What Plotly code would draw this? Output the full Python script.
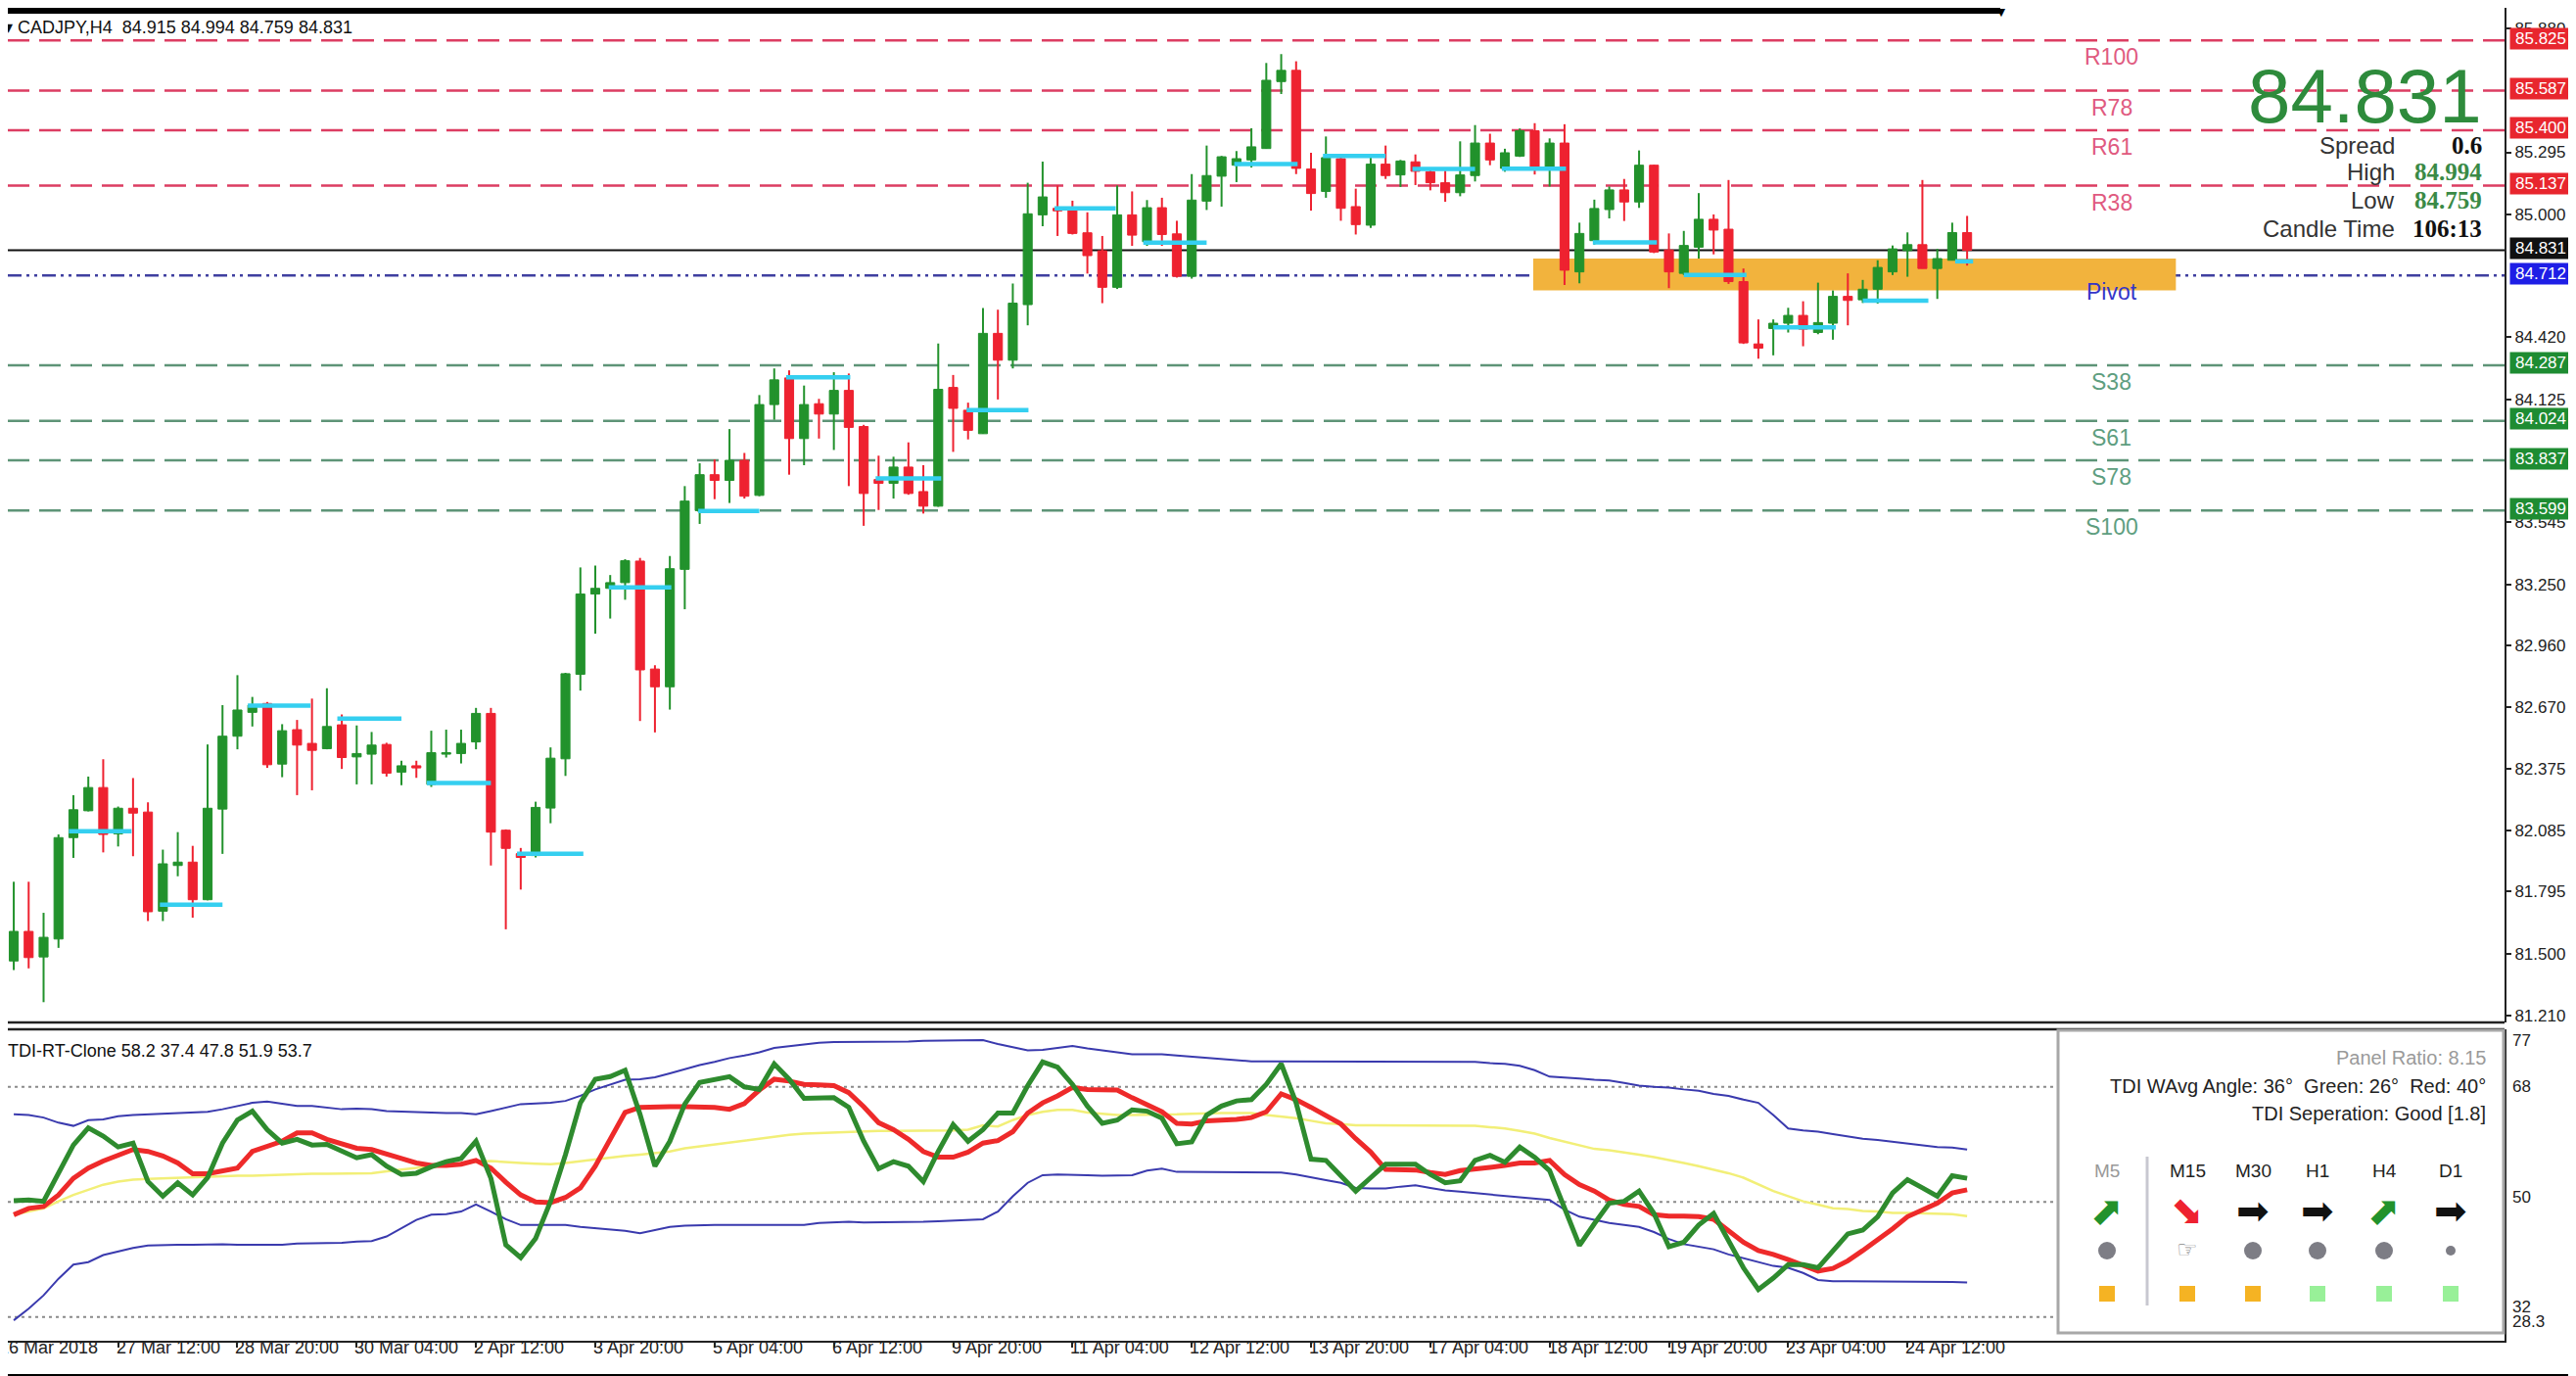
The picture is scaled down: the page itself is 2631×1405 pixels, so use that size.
import plotly.graph_objects as go

W, H = 2631, 1405


def px(x):
    return x / W


def py(y):
    return 1 - y / H


# CADJPY H4, bar 0 = 26 Mar 2018 04:00 ... bar 131 = 25 Apr 04:00
opens = [81.467, 81.607, 81.486, 81.571, 82.051, 82.178, 82.288, 82.069, 82.190, 82.172,
         81.703, 81.919, 81.935, 81.757, 82.186, 82.531, 82.644, 82.686, 82.399, 82.562,
         82.497, 82.472, 82.585, 82.433, 82.446, 82.492, 82.361, 82.391, 82.303, 82.446,
         82.449, 82.504, 82.639, 82.086, 81.975, 81.966, 82.191, 82.424, 82.824, 83.204,
         83.231, 83.258, 83.360, 82.849, 82.765, 83.321, 83.599, 83.769, 83.742, 83.837,
         83.671, 84.101, 84.227, 83.940, 84.105, 84.056, 84.168, 83.997, 83.746, 83.728,
         83.805, 83.689, 83.620, 84.182, 84.074, 83.963, 84.438, 84.311, 84.574, 84.999,
         85.030, 85.022, 84.914, 84.829, 84.656, 84.999, 84.872, 85.033, 84.909, 84.708,
         85.064, 85.182, 85.234, 85.259, 85.313, 85.630, 85.683, 85.216, 85.110, 85.265,
         85.038, 84.950, 85.239, 85.188, 85.250, 85.203, 85.151, 85.104, 85.185, 85.339,
         85.219, 85.277, 85.397, 85.226, 85.339, 84.729, 84.877, 85.024, 85.117, 85.060,
         85.234, 84.833, 84.722, 84.846, 84.978, 84.931, 84.683, 84.388, 84.461, 84.486,
         84.523, 84.442, 84.486, 84.613, 84.597, 84.647, 84.729, 84.830, 84.858, 84.745,
         84.784, 84.915]
highs = [81.842, 81.842, 81.695, 82.066, 82.252, 82.340, 82.422, 82.198, 82.333, 82.218,
         81.994, 82.077, 82.012, 82.492, 82.678, 82.820, 82.717, 82.693, 82.588, 82.608,
         82.709, 82.758, 82.634, 82.582, 82.551, 82.500, 82.415, 82.415, 82.557, 82.562,
         82.562, 82.665, 82.665, 82.090, 82.002, 82.221, 82.478, 82.831, 83.330, 83.339,
         83.294, 83.369, 83.375, 82.867, 83.384, 83.715, 83.823, 83.841, 83.985, 83.872,
         84.146, 84.272, 84.263, 84.191, 84.128, 84.254, 84.248, 84.005, 83.859, 83.854,
         83.922, 83.814, 84.390, 84.241, 84.110, 84.558, 84.550, 84.674, 85.151, 85.251,
         85.138, 85.066, 85.011, 84.899, 85.138, 85.110, 85.069, 85.080, 84.971, 85.192,
         85.327, 85.278, 85.301, 85.409, 85.718, 85.760, 85.726, 85.293, 85.370, 85.285,
         85.123, 85.270, 85.327, 85.259, 85.285, 85.216, 85.208, 85.347, 85.424, 85.383,
         85.312, 85.408, 85.433, 85.361, 85.428, 84.962, 85.071, 85.133, 85.169, 85.304,
         85.236, 84.911, 84.923, 85.102, 85.001, 85.164, 84.745, 84.504, 84.504, 84.559,
         84.590, 84.678, 84.641, 84.722, 84.691, 84.784, 84.854, 84.916, 85.164, 84.838,
         84.962, 84.994]
lows = [81.424, 81.432, 81.272, 81.529, 81.955, 82.175, 81.981, 82.009, 81.963, 81.656,
        81.656, 81.868, 81.672, 81.754, 81.974, 82.469, 82.577, 82.381, 82.337, 82.252,
        82.275, 82.469, 82.376, 82.303, 82.303, 82.340, 82.299, 82.334, 82.291, 82.430,
        82.402, 82.469, 81.919, 81.617, 81.805, 81.957, 82.119, 82.343, 82.747, 83.016,
        83.088, 83.177, 82.603, 82.549, 82.657, 83.132, 83.536, 83.653, 83.635, 83.656,
        83.667, 84.029, 83.769, 83.814, 83.940, 83.886, 83.715, 83.527, 83.602, 83.656,
        83.674, 83.585, 83.617, 83.877, 83.936, 83.963, 84.125, 84.272, 84.476, 84.945,
        84.899, 84.906, 84.721, 84.581, 84.648, 84.852, 84.852, 84.852, 84.702, 84.697,
        85.022, 85.038, 85.154, 85.223, 85.312, 85.571, 85.192, 85.019, 85.080, 84.971,
        84.906, 84.937, 85.169, 85.131, 85.140, 85.115, 85.061, 85.087, 85.157, 85.234,
        85.203, 85.273, 85.190, 85.133, 84.667, 84.675, 84.858, 84.982, 84.970, 85.032,
        84.818, 84.652, 84.714, 84.792, 84.812, 84.672, 84.388, 84.318, 84.334, 84.442,
        84.377, 84.434, 84.408, 84.476, 84.582, 84.579, 84.714, 84.706, 84.745, 84.601,
        84.784, 84.759]
closes = [81.607, 81.483, 81.579, 82.051, 82.183, 82.288, 82.066, 82.190, 82.167, 81.700,
          81.927, 81.935, 81.757, 82.190, 82.531, 82.655, 82.678, 82.396, 82.557, 82.489,
          82.464, 82.577, 82.430, 82.449, 82.489, 82.356, 82.391, 82.381, 82.453, 82.453,
          82.497, 82.639, 82.077, 82.000, 81.957, 82.194, 82.427, 82.827, 83.204, 83.231,
          83.258, 83.362, 82.845, 82.765, 83.324, 83.644, 83.769, 83.742, 83.837, 83.667,
          84.101, 84.218, 83.940, 84.101, 84.056, 84.168, 83.993, 83.680, 83.728, 83.805,
          83.680, 83.620, 84.173, 84.083, 83.979, 84.438, 84.311, 84.581, 85.004, 85.084,
          85.018, 84.911, 84.806, 84.656, 84.999, 84.903, 85.033, 84.906, 84.708, 85.069,
          85.185, 85.274, 85.265, 85.321, 85.636, 85.683, 85.219, 85.100, 85.270, 85.030,
          84.953, 85.239, 85.185, 85.254, 85.205, 85.151, 85.104, 85.188, 85.339, 85.259,
          85.293, 85.397, 85.226, 85.339, 84.737, 84.911, 85.029, 85.117, 85.060, 85.234,
          84.823, 84.729, 84.854, 84.978, 84.927, 84.683, 84.393, 84.368, 84.486, 84.523,
          84.458, 84.489, 84.613, 84.594, 84.647, 84.750, 84.838, 84.858, 84.745, 84.792,
          84.915, 84.831]

# daily open segments (cyan)
cyan_start = [3.7, 9.8, 15.7, 21.7, 27.7, 33.75, 39.9, 45.9, 51.8, 57.8, 63.9,
              69.8, 75.75, 81.85, 87.8, 93.8, 99.8, 105.9, 112.0, 118.0, 124.0, 130.2]
cyan_end = [7.9, 14.0, 19.9, 26.0, 32.0, 38.2, 44.1, 50.0, 56.1, 62.2, 68.05,
            73.9, 80.0, 86.1, 92.0, 98.0, 104.1, 110.2, 116.2, 122.2, 128.4, 131.4]
cyan_level = [82.081, 81.734, 82.676, 82.614, 82.31, 81.975, 83.236, 83.597, 84.230, 83.751, 84.075,
              85.030, 84.868, 85.239, 85.278, 85.216, 85.218, 84.869, 84.714, 84.466, 84.593, 84.779]

# pivot levels
level_names = ["R100", "R78", "R61", "R38", "Pivot", "S38", "S61", "S78", "S100"]
level_prices = [85.825, 85.587, 85.400, 85.137, 84.712, 84.287, 84.024, 83.837, 83.599]
current_price = 84.831
zone_bars = [101.9, 145.0]
zone_prices = [84.641, 84.792]

price_ticks = [85.880, 85.295, 85.000, 84.420, 84.125, 83.545, 83.250, 82.960,
               82.670, 82.375, 82.085, 81.795, 81.500, 81.210]

# TDI-RT-Clone
tdi_rsi = [50.2, 50.3, 50.1, 54.7, 58.9, 61.6, 60.3, 58.6, 59.2, 53.2,
           50.9, 53.0, 51.1, 53.8, 59.2, 62.8, 64.2, 61.3, 59.2, 59.8,
           58.9, 59.0, 58.0, 56.9, 57.4, 55.6, 54.3, 54.5, 55.5, 56.3,
           56.8, 59.5, 53.7, 43.3, 41.3, 44.3, 50.1, 57.4, 65.5, 69.2,
           69.6, 70.6, 63.7, 55.6, 59.5, 65.3, 68.7, 69.2, 69.6, 68.0,
           67.6, 71.6, 69.2, 66.2, 66.3, 66.3, 64.8, 59.5, 55.2, 56.3,
           55.6, 53.2, 57.9, 62.1, 59.5, 61.3,
           63.9, 63.9, 68.2, 71.9, 71.1, 68.4, 65.0, 62.3, 62.8, 64.4,
           64.2, 63.1, 59.1, 59.4, 63.6, 65.0, 65.8, 66.0, 68.4, 71.6,
           65.5, 56.7, 56.5, 54.1, 51.7, 53.8, 55.9, 55.9, 55.9, 54.3,
           53.0, 53.3, 56.5, 57.3, 56.2, 58.6, 57.0, 54.9, 48.8, 43.2,
           46.6, 49.8, 50.1, 51.7, 48.2, 43.0, 43.7, 46.4, 48.2, 44.0,
           39.7, 36.3, 38.1, 40.2, 40.2, 39.7, 42.4, 45.0, 45.6, 47.7,
           51.4, 53.5, 52.2, 50.9, 54.1, 53.7]
tdi_signal = [48.0, 49.0, 49.3, 51.1, 53.7, 55.3, 56.4, 57.4, 58.2, 57.9,
              57.2, 56.1, 54.4, 54.4, 54.9, 55.3, 57.9, 58.7, 59.5, 60.8,
              60.8, 59.8, 59.0, 58.4, 58.2, 57.4, 56.8, 56.1, 55.7, 55.7,
              55.9, 56.5, 55.3, 53.1, 51.1, 50.0, 49.9, 50.7, 52.2, 55.6,
              60.0, 64.0, 64.8, 64.9, 64.9, 64.9, 64.9, 64.8, 64.5, 65.4,
              67.5, 69.2, 68.9, 68.4, 68.3, 68.2, 67.1, 64.9, 62.4, 61.3,
              59.8, 57.9, 57.0, 57.0, 57.8, 59.2,
              59.6, 61.0, 63.9, 65.5, 66.6, 67.9, 67.6, 67.6, 67.5, 66.3,
              65.3, 64.1, 62.3, 62.2, 62.7, 62.8, 62.9, 63.2, 64.1, 66.9,
              66.0, 64.8, 63.6, 62.2, 59.9, 57.8, 55.1, 55.0, 55.0, 54.6,
              54.3, 54.9, 55.1, 55.4, 55.7, 56.1, 56.1, 56.5, 54.3, 52.7,
              51.7, 50.3, 49.6, 49.3, 48.0, 47.8, 47.8, 47.7, 47.3, 45.6,
              43.7, 42.4, 41.8, 41.0, 40.0, 39.2, 39.6, 40.8, 42.4, 44.0,
              45.8, 47.7, 48.8, 49.8, 51.4, 51.9]
tdi_base = [48.0, 48.5, 49.0, 50.1, 51.1, 51.9, 52.7, 53.2, 53.5, 53.6,
            53.7, 53.8, 53.9, 54.0, 54.0, 54.1, 54.1, 54.2, 54.3, 54.3,
            54.4, 54.4, 54.4, 54.4, 54.5, 54.8, 55.1, 55.3, 55.6, 55.8,
            56.1, 56.3, 56.4, 56.2, 56.1, 56.0, 55.9, 56.1, 56.4, 56.6,
            56.9, 57.2, 57.4, 57.7, 57.9, 58.4, 58.7, 59.1, 59.4, 59.7,
            60.0, 60.2, 60.5, 60.7, 60.8, 60.9, 61.0, 61.0, 61.1, 61.1,
            61.1, 61.1, 61.1, 61.2, 61.3, 62.0,
            61.8, 62.8, 63.6, 64.1, 64.4, 64.4, 64.0, 63.8, 63.6, 63.6,
            63.6, 63.7, 63.7, 63.8, 63.9, 63.9, 63.9, 63.9, 63.6, 63.4,
            63.1, 62.7, 62.3, 62.2, 62.0, 62.0, 62.0, 62.0, 62.0, 62.0,
            62.0, 62.0, 61.9, 61.7, 61.5, 61.1, 60.7, 60.0, 59.4, 58.9,
            58.3, 58.1, 57.8, 57.4, 57.0, 56.6, 56.1, 55.6, 55.1, 54.5,
            53.8, 52.7, 51.7, 50.9, 50.1, 49.6, 49.0, 48.9, 48.6, 48.5,
            48.3, 48.3, 48.2, 48.2, 48.1, 47.8]
tdi_upper = [63.7, 63.6, 63.2, 62.4, 61.9, 62.8, 62.9, 63.4, 63.6, 63.7,
             63.7, 63.8, 63.9, 64.1, 64.5, 65.0, 65.5, 65.7, 65.3, 65.0,
             65.0, 64.8, 64.5, 64.6, 64.5, 64.2, 64.1, 64.0, 63.9, 63.9,
             63.9, 63.7, 64.2, 64.8, 65.3, 65.4, 65.5, 65.8, 66.6, 67.6,
             68.4, 69.1, 69.2, 69.5, 70.1, 70.8, 71.4, 71.9, 72.5, 72.9,
             73.4, 74.1, 74.4, 74.7, 74.9, 75.0, 75.0, 75.0, 75.0, 75.0,
             75.1, 75.2, 75.2, 75.2, 75.3, 75.3,
             74.7, 74.2, 73.7, 73.8, 74.1, 74.4, 74.0, 73.7, 73.4, 73.1,
             73.1, 73.1, 72.9, 72.7, 72.5, 72.3, 72.1, 72.0, 72.0, 72.0,
             72.0, 72.0, 71.9, 71.9, 71.9, 71.9, 71.9, 71.9, 71.9, 71.9,
             71.9, 71.9, 71.9, 71.7, 71.6, 71.3, 70.6, 69.6, 69.5, 69.3,
             69.1, 69.0, 68.6, 68.2, 68.0, 67.9, 67.6, 67.4, 66.9, 66.6,
             66.0, 65.5, 63.6, 61.5, 61.2, 61.0, 60.6, 60.2, 59.9, 59.7,
             59.4, 59.1, 58.9, 58.6, 58.5, 58.2]
tdi_lower = [31.5, 33.3, 35.4, 38.0, 40.2, 40.6, 41.7, 42.3, 42.8, 43.2,
             43.3, 43.3, 43.3, 43.4, 43.4, 43.3, 43.3, 43.3, 43.3, 43.5,
             43.5, 43.5, 43.6, 43.8, 43.9, 44.6, 45.9, 47.2, 48.0, 48.1,
             48.5, 49.6, 48.5, 47.3, 46.4, 46.4, 46.4, 46.4, 46.1, 45.9,
             45.8, 45.5, 45.1, 45.6, 46.1, 46.3, 46.4, 46.4, 46.4, 46.4,
             46.4, 46.4, 46.4, 46.4, 46.7, 46.8, 46.9, 46.8, 46.8, 46.8,
             46.8, 46.9, 47.0, 47.1, 47.2, 47.3,
             48.5, 50.9, 53.0, 54.2, 54.3, 54.3, 54.2, 54.1, 54.1, 54.2,
             54.9, 55.2, 54.7, 54.7, 54.7, 54.7, 54.7, 54.7, 54.7, 54.6,
             54.3, 53.8, 53.4, 53.0, 52.2, 52.1, 52.1, 52.4, 52.6, 52.2,
             51.8, 51.6, 51.4, 51.2, 51.0, 50.8, 50.6, 50.3, 48.8, 47.7,
             47.2, 46.7, 46.4, 46.1, 45.3, 44.2, 43.4, 43.0, 42.6, 41.8,
             41.2, 40.5, 40.0, 39.7, 38.9, 37.8, 37.6, 37.6, 37.6, 37.6,
             37.6, 37.6, 37.6, 37.5, 37.5, 37.4]
tdi_levels = [68, 50, 32]

date_bars = [7, 15, 23, 31, 39, 47, 55, 63, 71, 79, 87, 95, 103, 111, 119, 127]
date_labels = ["27 Mar 12:00", "28 Mar 20:00", "30 Mar 04:00", "2 Apr 12:00",
               "3 Apr 20:00", "5 Apr 04:00", "6 Apr 12:00", "9 Apr 20:00",
               "11 Apr 04:00", "12 Apr 12:00", "13 Apr 20:00", "17 Apr 04:00",
               "18 Apr 12:00", "19 Apr 20:00", "23 Apr 04:00", "24 Apr 12:00"]

# dashboard panel
tf_names = ["M5", "M15", "M30", "H1", "H4", "D1"]
tf_arrows = ["⬈", "⬊", "➡", "➡", "⬈", "➡"]
tf_arrow_colors = ["#22922c", "#ee2230", "#111111", "#111111", "#22922c", "#111111"]
tf_dots = ["big", "icon", "big", "big", "big", "small"]
tf_squares = ["#f5b323", "#f5b323", "#f5b323", "#98f098", "#98f098", "#98f098"]

GREEN = "#22922c"
RED = "#ee2230"
FONT = "Liberation Sans"

X_RIGHT = 2550
x_range = [-0.397, 167.04]
idx = list(range(len(opens)))
bull = [i for i in idx if closes[i] >= opens[i]]
bear = [i for i in idx if closes[i] < opens[i]]

fig = go.Figure()

# wicks
for group, col in ((bull, GREEN), (bear, RED)):
    wx, wy = [], []
    for i in group:
        wx += [i, i, None]
        wy += [lows[i], highs[i], None]
    fig.add_trace(go.Scatter(x=wx, y=wy, mode="lines", line=dict(color=col, width=2),
                             hoverinfo="skip", showlegend=False, xaxis="x", yaxis="y"))

# bodies
for group, col in ((bull, GREEN), (bear, RED)):
    fig.add_trace(go.Bar(
        x=group,
        y=[abs(closes[i] - opens[i]) for i in group],
        base=[min(opens[i], closes[i]) for i in group],
        width=0.6, marker=dict(color=col, line=dict(color=col, width=1)),
        showlegend=False, xaxis="x", yaxis="y"))

# daily open segments
cx, cy = [], []
for s, e, p in zip(cyan_start, cyan_end, cyan_level):
    cx += [s, e, None]
    cy += [p, p, None]
fig.add_trace(go.Scatter(x=cx, y=cy, mode="lines", line=dict(color="#35cff0", width=4.5),
                         hoverinfo="skip", showlegend=False, xaxis="x", yaxis="y"))

# TDI lines
tdi_series = [(tdi_upper, "#3a3aae", 2), (tdi_lower, "#3a3aae", 2), (tdi_base, "#f2ef78", 2.5),
              (tdi_signal, "#ee2a2a", 5), (tdi_rsi, "#2e8b2e", 5)]
for vals, col, w in tdi_series:
    fig.add_trace(go.Scatter(x=idx, y=vals, mode="lines", line=dict(color=col, width=w),
                             hoverinfo="skip", showlegend=False, xaxis="x2", yaxis="y2"))

shapes = []
# supply/demand zone
shapes.append(dict(type="rect", xref="x", yref="y", x0=zone_bars[0], x1=zone_bars[1],
                   y0=zone_prices[0], y1=zone_prices[1], fillcolor="#f2b33d",
                   line=dict(width=0), layer="below"))
# level lines
for name, p in zip(level_names, level_prices):
    if name.startswith("R"):
        ln = dict(color="#dc3d62", width=2.5, dash="22px,10px")
    elif name.startswith("S"):
        ln = dict(color="#5e9477", width=2.5, dash="22px,10px")
    else:
        ln = dict(color="#3f3fa0", width=2.5, dash="14px,5px,3px,5px,3px,5px")
    shapes.append(dict(type="line", xref="paper", yref="y", x0=0, x1=px(X_RIGHT),
                       y0=p, y1=p, line=ln, layer="below"))
shapes.append(dict(type="line", xref="paper", yref="y", x0=0, x1=px(X_RIGHT),
                   y0=current_price, y1=current_price, line=dict(color="#111", width=2),
                   layer="below"))
# TDI dotted levels
for lv in tdi_levels:
    shapes.append(dict(type="line", xref="paper", yref="y2", x0=0, x1=px(X_RIGHT),
                       y0=lv, y1=lv, line=dict(color="#8a8a8a", width=2, dash="3px,4px"),
                       layer="below"))
# window separators
for yy in (1036, 1043):
    shapes.append(dict(type="line", xref="paper", yref="paper", x0=0, x1=px(X_RIGHT),
                       y0=py(yy), y1=py(yy), line=dict(color="#222", width=2.5)))

# dashboard box
shapes.append(dict(type="rect", xref="paper", yref="paper", x0=px(2094), x1=px(2549),
                   y0=py(1353), y1=py(1044), fillcolor="white",
                   line=dict(color="#a8a8a8", width=3)))
shapes.append(dict(type="line", xref="paper", yref="paper", x0=px(2185), x1=px(2185),
                   y0=py(1325), y1=py(1173), line=dict(color="#c8c8d0", width=3)))
tf_x = [2144, 2226, 2293, 2359, 2427, 2495]
for x, dot, sq in zip(tf_x, tf_dots, tf_squares):
    if dot != "icon":
        r = 9 if dot == "big" else 5
        shapes.append(dict(type="circle", xref="paper", yref="paper",
                           x0=px(x - r), x1=px(x + r), y0=py(1269 + r), y1=py(1269 - r),
                           fillcolor="#7d7d85", line=dict(width=0)))
    shapes.append(dict(type="rect", xref="paper", yref="paper",
                       x0=px(x - 8), x1=px(x + 8), y0=py(1321), y1=py(1305),
                       fillcolor=sq, line=dict(width=0)))

# screenshot frame edges
shapes.append(dict(type="rect", xref="paper", yref="paper", x0=0, x1=px(2035),
                   y0=py(6), y1=1, fillcolor="black", line=dict(width=0)))
shapes.append(dict(type="rect", xref="paper", yref="paper", x0=0, x1=1,
                   y0=0, y1=py(1395), fillcolor="black", line=dict(width=0)))
shapes.append(dict(type="rect", xref="paper", yref="paper", x0=px(2627), x1=1,
                   y0=py(285), y1=py(10), fillcolor="black", line=dict(width=0)))

ann = []


def text(x, y, s, size, color="#111", xanchor="left", yanchor="middle", family=FONT, **kw):
    ann.append(dict(x=px(x), y=py(y), xref="paper", yref="paper", text=s, showarrow=False,
                    xanchor=xanchor, yanchor=yanchor,
                    font=dict(size=size, color=color, family=family), **kw))


text(-6, 20, "▾ CADJPY,H4  84.915 84.994 84.759 84.831", 18)
text(2529, 90, "84.831", 78, color="#2e8b3c", xanchor="right")
info_rows = [("Spread", "<b>0.6</b>", "#111"), ("High", "<b>84.994</b>", "#3a8a46"),
             ("Low", "<b>84.759</b>", "#3a8a46"), ("Candle Time", "<b>106:13</b>", "#111")]
for (lab, val, col), yy in zip(info_rows, [140, 168, 197, 225]):
    text(2440, yy, lab, 24, color="#333", xanchor="right")
    text(2529, yy, val, 25, color=col, xanchor="right", family="Liberation Serif")

# level names on chart
for name, p in zip(level_names, level_prices):
    col = "#e05a80" if name.startswith("R") else ("#5e9e80" if name.startswith("S") else "#3535c8")
    ann.append(dict(x=140.7, y=p, xref="x", yref="y", text=name, showarrow=False,
                    yshift=-17, font=dict(size=23, color=col, family=FONT)))

# price boxes on the scale
box_prices = level_prices + [current_price]
box_colors = ["#e8262e"] * 4 + ["#1e1ee6"] + ["#1e8c32"] * 4 + ["#111111"]
for p, col in zip(box_prices, box_colors):
    ann.append(dict(x=px(X_RIGHT + 5), y=p, xref="paper", yref="y", text=f"{p:.3f}",
                    showarrow=False, xanchor="left", bgcolor=col, width=62, height=21,
                    borderpad=0, yshift=2, font=dict(size=17, color="white", family=FONT)))

# TDI window texts
text(-2, 1065, "TDI-RT-Clone 58.2 37.4 47.8 51.9 53.7", 18)
ann.append(dict(x=px(X_RIGHT + 6), y=77, xref="paper", yref="y2", text="77", showarrow=False,
                xanchor="left", yanchor="top", font=dict(size=17, color="#222", family=FONT)))
for lv, shift in ((68, 0), (50, 5), (32, 10)):
    ann.append(dict(x=px(X_RIGHT + 6), y=lv, xref="paper", yref="y2", text=str(lv),
                    showarrow=False, xanchor="left", yshift=shift,
                    font=dict(size=17, color="#222", family=FONT)))
ann.append(dict(x=px(X_RIGHT + 6), y=28.3, xref="paper", yref="y2", text="28.3",
                showarrow=False, xanchor="left", yanchor="bottom", yshift=8,
                font=dict(size=17, color="#222", family=FONT)))

# dashboard texts
text(2533, 1072, "Panel Ratio: 8.15", 20, color="#9a9a9a", xanchor="right")
text(2533, 1101, "TDI WAvg Angle: 36°  Green: 26°  Red: 40°", 20, color="#222", xanchor="right")
text(2533, 1129, "TDI Seperation: Good [1.8]", 20, color="#222", xanchor="right")
for x, name, arrow, acol, dot in zip(tf_x, tf_names, tf_arrows, tf_arrow_colors, tf_dots):
    text(x, 1187, name, 19, color="#999" if name == "M5" else "#222", xanchor="center")
    text(x, 1228, arrow, 40, color=acol, xanchor="center", family="DejaVu Sans")
    if dot == "icon":
        text(x, 1268, "☞", 24, color="#888", xanchor="center", family="DejaVu Sans")

# time scale labels
ann.append(dict(x=px(-11), y=py(1380), xref="paper", yref="paper", text="26 Mar 2018",
                showarrow=False, xanchor="left", font=dict(size=18, color="#222", family=FONT)))
for b, lab in zip(date_bars, date_labels):
    ann.append(dict(x=b, y=py(1380), xref="x2", yref="paper", text=lab, showarrow=False,
                    xanchor="left", xshift=-4, font=dict(size=18, color="#222", family=FONT)))

text(2036, 4, "▼", 14, color="black", xanchor="center")

fig.update_layout(
    width=W, height=H,
    margin=dict(l=0, r=0, t=0, b=0, autoexpand=False),
    paper_bgcolor="white", plot_bgcolor="white",
    font=dict(family=FONT, size=18, color="#222"),
    barmode="overlay", showlegend=False,
    shapes=shapes, annotations=ann,
    xaxis=dict(domain=[0, px(X_RIGHT)], range=x_range, anchor="y", showgrid=False,
               zeroline=False, showticklabels=False, ticks=""),
    yaxis=dict(domain=[py(1036), 1], range=[81.176, 85.979], side="right", anchor="x",
               tickvals=price_ticks, ticktext=[f"{t:.3f}" for t in price_ticks],
               ticks="outside", ticklen=5, tickwidth=2, tickcolor="#222",
               showline=True, linewidth=2, linecolor="#222", showgrid=False, zeroline=False,
               tickfont=dict(size=17, color="#222", family=FONT)),
    xaxis2=dict(domain=[0, px(X_RIGHT)], range=x_range, anchor="y2", showgrid=False,
                zeroline=False, tickvals=date_bars, ticks="outside", ticklen=5, tickwidth=2,
                tickcolor="#222", showticklabels=False, showline=True, linewidth=2,
                linecolor="#222"),
    yaxis2=dict(domain=[py(1361), py(1043)], range=[28.3, 77], side="right", anchor="x2",
                showticklabels=False, ticks="", showline=True, linewidth=2, linecolor="#222",
                showgrid=False, zeroline=False),
)

fig.write_html("out.html")
